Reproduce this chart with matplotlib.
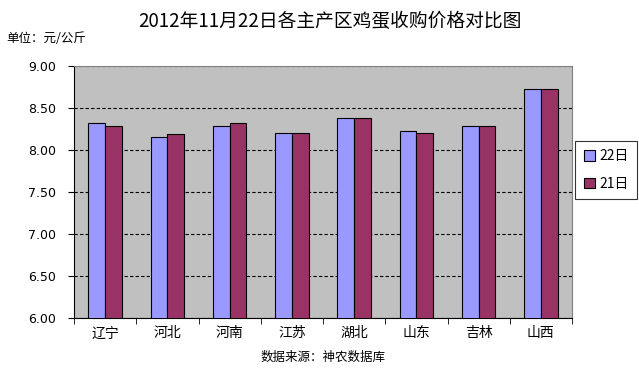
"""Egg purchase price comparison, 2012-11-22 vs 11-21."""
import matplotlib
matplotlib.use("Agg")
import matplotlib.pyplot as plt
import numpy as np

plt.rcParams["font.family"] = ["Noto Sans CJK SC", "DejaVu Sans"]

regions = ["辽宁", "河北", "河南", "江苏", "湖北", "山东", "吉林", "山西"]
price_22 = [8.32, 8.16, 8.29, 8.20, 8.38, 8.23, 8.29, 8.73]
price_21 = [8.29, 8.19, 8.32, 8.20, 8.38, 8.20, 8.29, 8.73]
series_labels = ["22日", "21日"]

fig = plt.figure(figsize=(6.39, 3.70), dpi=100)
ax = fig.add_axes([74 / 639, 1 - 318 / 370, 498 / 639, 252 / 370])
ax.set_facecolor("#C0C0C0")

x = np.arange(len(regions))
w = 0.27
ax.bar(x - w / 2, price_22, w, color="#9999FF", edgecolor="black",
       linewidth=0.8, label=series_labels[0], zorder=3)
ax.bar(x + w / 2, price_21, w, color="#993366", edgecolor="black",
       linewidth=0.8, label=series_labels[1], zorder=3)

yticks = np.arange(6, 9.01, 0.5)
ax.set_ylim(6, 9)
ax.set_xlim(-0.5, len(regions) - 0.5)
ax.set_yticks(yticks)
ax.set_yticklabels([f"{v:.2f}" for v in yticks], fontsize=9,
                   family="DejaVu Sans")
ax.yaxis.grid(True, linestyle=(0, (3, 2)), color="black", linewidth=0.8, zorder=1)

ax.set_xticks(x)
ax.set_xticklabels(regions, fontsize=10)
ax.tick_params(axis="x", length=0, pad=6)
ax.set_xticks(np.arange(-0.5, len(regions)), minor=True)
ax.tick_params(axis="x", which="minor", length=4, direction="out")
ax.tick_params(axis="y", length=4, direction="out", pad=9)

for side in ["top", "right"]:
    ax.spines[side].set_linestyle((0, (2, 1)))
    ax.spines[side].set_color("#808080")
for side in ["left", "bottom"]:
    ax.spines[side].set_color("black")

fig.text(330 / 639, 1 - 21 / 370, "2012年11月22日各主产区鸡蛋收购价格对比图",
         ha="center", va="center", fontsize=13.5)
fig.text(6 / 639, 1 - 38 / 370, "单位：元/公斤", ha="left", va="center", fontsize=9)
fig.text(323 / 639, 1 - 357 / 370, "数据来源：神农数据库", ha="center",
         va="center", fontsize=9)

leg = fig.legend(loc="center", bbox_to_anchor=(606 / 639, 1 - 170 / 370),
                 fontsize=10, frameon=True, fancybox=False, edgecolor="black",
                 handlelength=0.8, handleheight=0.8, handletextpad=0.3,
                 labelspacing=1.0, borderpad=0.6)
leg.get_frame().set_linewidth(0.8)

fig.savefig("out.png", dpi=100)
